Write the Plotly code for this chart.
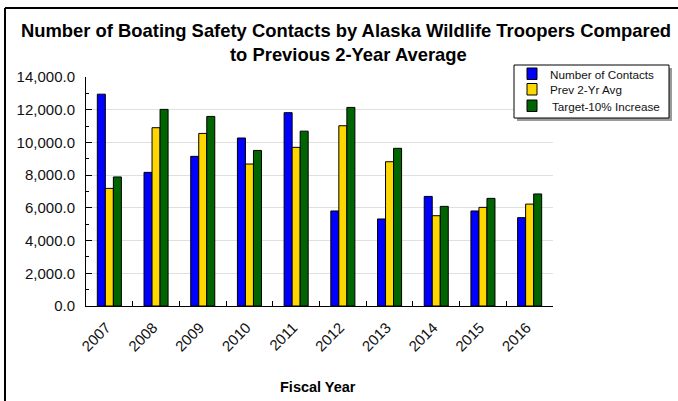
import plotly.graph_objects as go

years = ["2007", "2008", "2009", "2010", "2011", "2012", "2013", "2014", "2015", "2016"]
contacts = [12950, 8170, 9150, 10270, 11820, 5810, 5320, 6700, 5810, 5400]
prev_avg = [7190, 10900, 10550, 8680, 9700, 11020, 8820, 5520, 6030, 6230]
target = [7890, 12020, 11590, 9510, 10690, 12140, 9640, 6090, 6580, 6850]

series_names = ["Number of Contacts", "Prev 2-Yr Avg", "Target-10% Increase"]
series_colors = ["#0000FF", "#FFD700", "#006400"]

W, H = 678, 401
L, R, T, B = 86, 553, 77, 306  # plot area pixel bounds

def px_x(p):
    return (p - L) / (R - L)

def px_y(p):
    return (B - p) / (B - T)

FONT = "Liberation Sans, Arial, sans-serif"

fig = go.Figure()
for name, vals, col in zip(series_names, [contacts, prev_avg, target], series_colors):
    fig.add_trace(go.Bar(
        x=years, y=vals, name=name,
        marker=dict(color=col, line=dict(color="#000000", width=1)),
    ))

# --- manual legend (box, shadow, swatches, labels) ---
leg_box = (514, 65, 669, 118)
leg_rows_y = [74, 89.5, 106]
leg_text_x = [548, 548, 550]
shapes = [
    dict(type="rect", xref="paper", yref="paper",
         x0=px_x(leg_box[0] + 3), y0=px_y(leg_box[1] + 3),
         x1=px_x(leg_box[2] + 3), y1=px_y(leg_box[3] + 3),
         fillcolor="#9A9A9A", line=dict(width=0), layer="above"),
    dict(type="rect", xref="paper", yref="paper",
         x0=px_x(leg_box[0]), y0=px_y(leg_box[1]),
         x1=px_x(leg_box[2]), y1=px_y(leg_box[3]),
         fillcolor="white", line=dict(color="#000000", width=1), layer="above"),
]
annotations = []
for name, col, cy, tx in zip(series_names, series_colors, leg_rows_y, leg_text_x):
    shapes.append(dict(type="rect", xref="paper", yref="paper",
                       x0=px_x(527), y0=px_y(cy - 6), x1=px_x(537), y1=px_y(cy + 5.5),
                       fillcolor=col, line=dict(color="#000000", width=1), layer="above"))
    annotations.append(dict(text=name, xref="paper", yref="paper",
                            x=px_x(tx), y=px_y(cy), xanchor="left", yanchor="middle",
                            showarrow=False,
                            font=dict(size=11.7, family=FONT, color="#111111")))

# outer frame (top and left edges)
shapes += [
    dict(type="line", xref="paper", yref="paper",
         x0=px_x(5), y0=px_y(8), x1=px_x(W + 5), y1=px_y(8),
         line=dict(color="#000000", width=2)),
    dict(type="line", xref="paper", yref="paper",
         x0=px_x(5), y0=px_y(8), x1=px_x(5), y1=px_y(H + 5),
         line=dict(color="#000000", width=2)),
]

annotations += [
    dict(text="<b>Number of Boating Safety Contacts by Alaska Wildlife Troopers Compared</b>",
         xref="paper", yref="paper", x=px_x(346), y=px_y(30),
         xanchor="center", yanchor="middle", showarrow=False,
         font=dict(size=18.4, family=FONT, color="#000000")),
    dict(text="<b>to Previous 2-Year Average</b>",
         xref="paper", yref="paper", x=px_x(348), y=px_y(54),
         xanchor="center", yanchor="middle", showarrow=False,
         font=dict(size=18.4, family=FONT, color="#000000")),
    dict(text="<b>Fiscal Year</b>",
         xref="paper", yref="paper", x=px_x(318), y=px_y(387),
         xanchor="center", yanchor="middle", showarrow=False,
         font=dict(size=14.5, family=FONT, color="#000000")),
]

fig.update_layout(
    width=W, height=H,
    margin=dict(l=L, r=W - R, t=T, b=H - B, pad=0),
    paper_bgcolor="white", plot_bgcolor="white",
    barmode="group", bargap=0.485, bargroupgap=0,
    font=dict(family=FONT, color="#111111"),
    showlegend=False,
    xaxis=dict(
        type="category", showline=True, linecolor="#000000", linewidth=1,
        ticks="inside", ticklen=5, tickcolor="#000000", tickson="boundaries",
        tickangle=-45, tickfont=dict(size=15, family=FONT, color="#111111"),
        ticklabelstandoff=6, ticklabelshift=-3,
        showgrid=False, zeroline=False, mirror=False, automargin=False,
    ),
    yaxis=dict(
        range=[0, 14000], dtick=2000, tickformat=",.1f",
        showline=True, linecolor="#000000", linewidth=1,
        ticks="inside", ticklen=6, tickcolor="#000000",
        minor=dict(dtick=1000, ticks="inside", ticklen=3, tickcolor="#000000", showgrid=False),
        showgrid=True, gridcolor="#E0E0E0", gridwidth=1, zeroline=False,
        tickfont=dict(size=15, family=FONT, color="#111111"),
        ticklabelstandoff=7, automargin=False,
    ),
    annotations=annotations,
    shapes=shapes,
)

fig.write_html("out.html", config={"displayModeBar": False},
               post_script="document.body.style.margin='0px';")
